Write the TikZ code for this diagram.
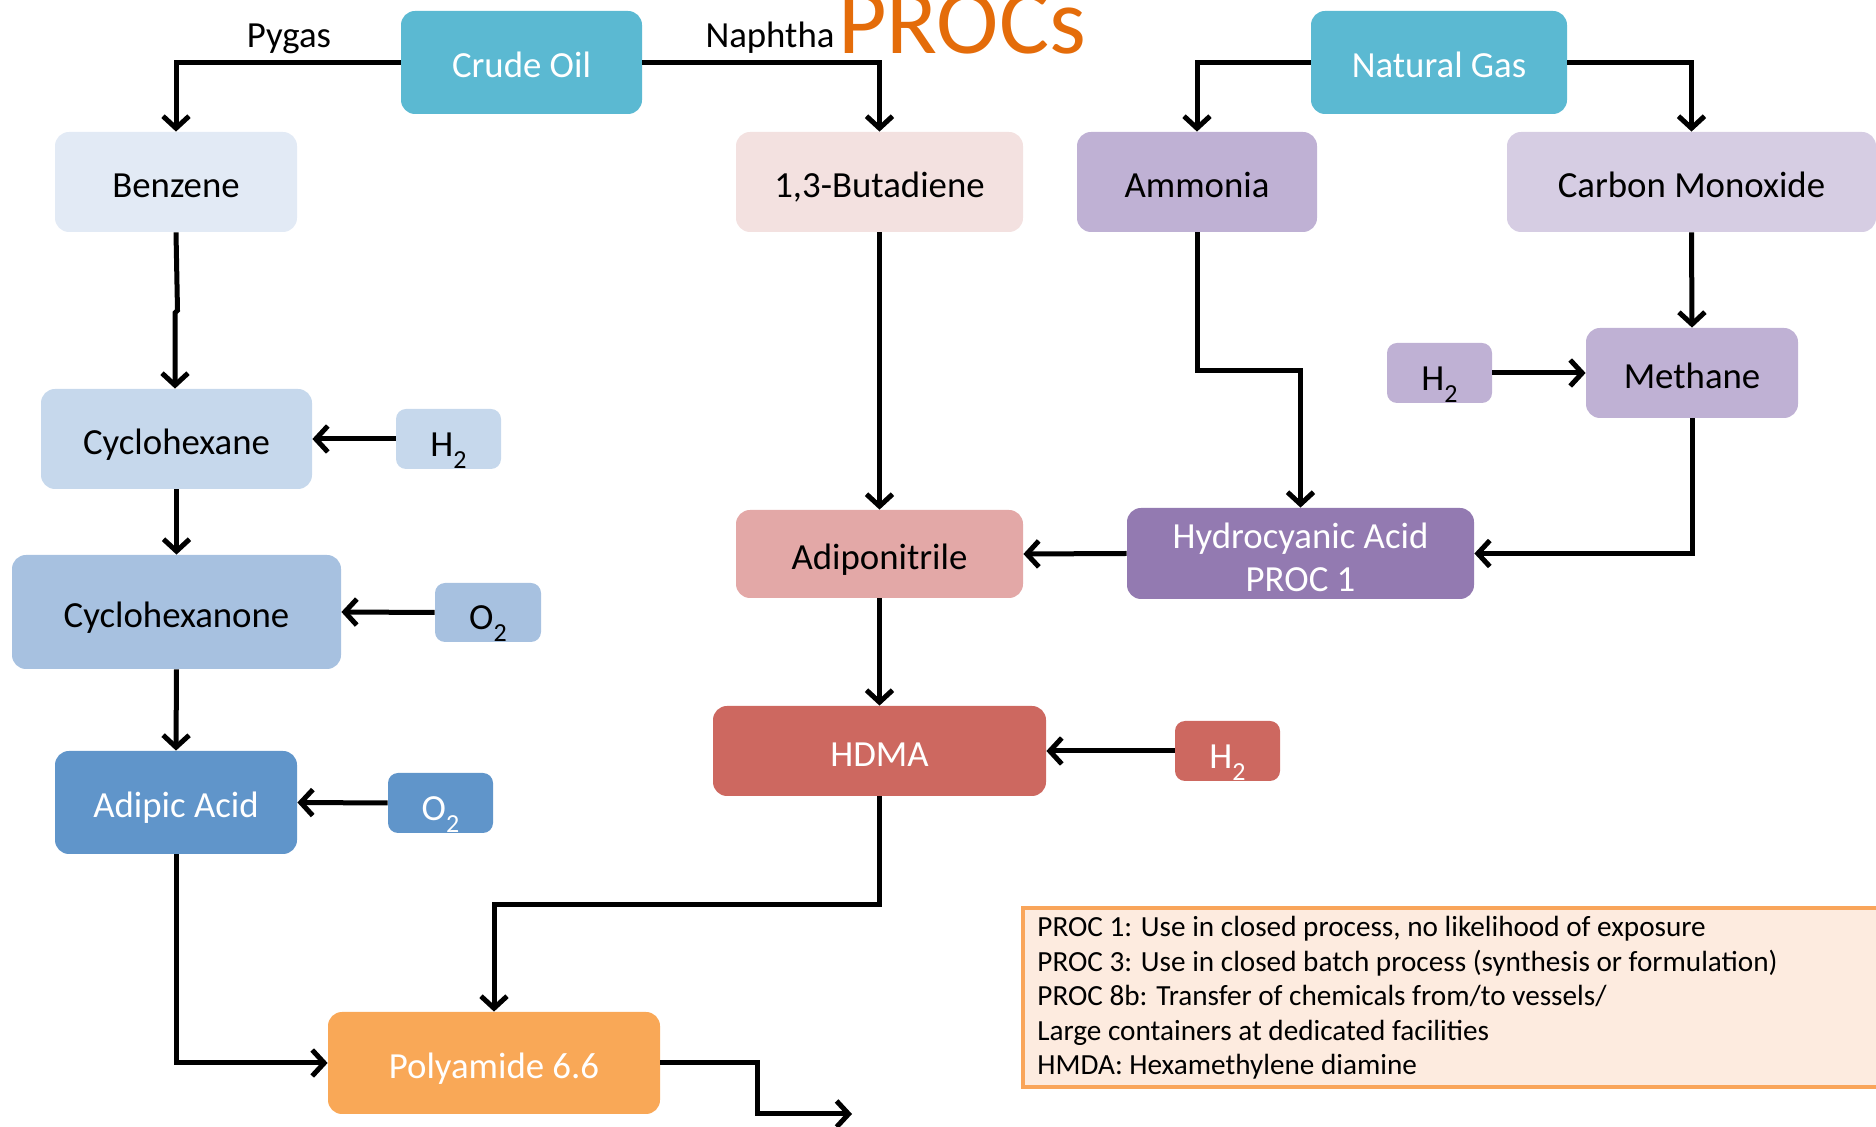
\documentclass[tikz,border=0pt]{standalone}
\usepackage{fontspec}
\setmainfont{Carlito}
\usetikzlibrary{arrows.meta,calc}
\definecolor{cyanN}{HTML}{5BB9D2}
\definecolor{benzC}{HTML}{E2EAF5}
\definecolor{cyclC}{HTML}{C6D8EC}
\definecolor{cycoC}{HTML}{A7C1E0}
\definecolor{adipC}{HTML}{6095CA}
\definecolor{butaC}{HTML}{F3E1E0}
\definecolor{adpnC}{HTML}{E3A8A7}
\definecolor{hdmaC}{HTML}{CD6860}
\definecolor{polyC}{HTML}{F9A857}
\definecolor{ammoC}{HTML}{BFB1D4}
\definecolor{coC}{HTML}{D6CDE3}
\definecolor{hcnC}{HTML}{937AB1}
\definecolor{legfill}{HTML}{FDEBDF}
\definecolor{legdraw}{HTML}{F9A55A}
\definecolor{titleC}{HTML}{E46C0A}
\newcommand\sbs[1]{\raisebox{-0.32em}{\fontsize{13}{13}\selectfont #1}}
\tikzset{
  chem/.style={rounded corners=7pt, inner sep=0pt, align=center,
    font=\fontsize{18.4}{21.5}\selectfont},
  one/.style={text height=15.5pt, text depth=0pt},
  small/.style={rounded corners=5pt, text height=17.5pt, text depth=0pt},
  wtext/.style={text=white},
  arr/.style={line width=2.5pt, -{Straight Barb[length=6pt,width=13pt,line width=2.5pt]}},
  lbl/.style={anchor=base, font=\fontsize{18.4}{21}\selectfont},
}
\begin{document}
\begin{tikzpicture}[x=0.5pt,y=-0.5pt]
\useasboundingbox (0,0) rectangle (1876,1127);
% title
\node[anchor=base, font=\fontsize{47}{50}\selectfont, text=titleC, inner sep=0pt] (title) at (962,54) {PROCs};
% nodes
\node[chem, one, fill=cyanN, wtext, minimum width=120.5pt, minimum height=51.5pt] (crude) at (521.5,62.5) {Crude Oil};
\node[chem, one, fill=cyanN, wtext, minimum width=128pt, minimum height=51.5pt] (gas) at (1439,62.5) {Natural Gas};
\node[chem, one, fill=benzC, minimum width=121pt, minimum height=50pt] (benz) at (176,182) {Benzene};
\node[chem, one, fill=butaC, minimum width=143.5pt, minimum height=50pt] (buta) at (879.5,182) {1,3-Butadiene};
\node[chem, one, fill=ammoC, minimum width=120pt, minimum height=50pt] (ammo) at (1197,182) {Ammonia};
\node[chem, one, fill=coC, minimum width=184.5pt, minimum height=50pt] (co) at (1691.5,182) {Carbon Monoxide};
\node[chem, one, fill=ammoC, minimum width=106pt, minimum height=45pt] (meth) at (1692,373) {Methane};
\node[chem, small, fill=ammoC, minimum width=52.5pt, minimum height=30pt] (h2m) at (1439.5,373) {H\sbs{2}};
\node[chem, one, fill=cyclC, minimum width=135.5pt, minimum height=50pt] (cyc) at (176.5,439) {Cyclohexane};
\node[chem, small, fill=cyclC, minimum width=52.5pt, minimum height=30pt] (h2c) at (448.5,439) {H\sbs{2}};
\node[chem, one, fill=cycoC, minimum width=164.5pt, minimum height=57pt] (cyco) at (176.5,612) {Cyclohexanone};
\node[chem, small, fill=cycoC, minimum width=53pt, minimum height=29.5pt] (o2a) at (488,612.5) {O\sbs{2}};
\node[chem, one, fill=adipC, wtext, minimum width=121pt, minimum height=51.5pt] (adip) at (176,802.5) {Adipic Acid};
\node[chem, small, fill=adipC, wtext, minimum width=52.5pt, minimum height=30pt] (o2b) at (440.5,803) {O\sbs{2}};
\node[chem, one, fill=adpnC, minimum width=143.5pt, minimum height=44pt] (adpn) at (879.5,554) {Adiponitrile};
\node[chem, fill=hcnC, wtext, minimum width=173.5pt, minimum height=45.5pt] (hcn) at (1300.5,553.5) {\rule{0pt}{16.5pt}Hydrocyanic Acid\\PROC 1};
\node[chem, one, fill=hdmaC, wtext, minimum width=166.5pt, minimum height=45pt] (hdma) at (879.5,751) {HDMA};
\node[chem, small, fill=hdmaC, wtext, minimum width=52.5pt, minimum height=30pt] (h2h) at (1227.5,751) {H\sbs{2}};
\node[chem, one, fill=polyC, wtext, minimum width=166pt, minimum height=51pt] (poly) at (494,1063) {Polyamide 6.6};
% legend
\node[draw=legdraw, fill=legfill, line width=1.8pt, anchor=north west, minimum width=432pt, minimum height=89.5pt, inner sep=0pt] (legbox) at (1021,906) {};
\node[anchor=north west, align=left, inner sep=0pt, font=\fontsize{14.6}{17.25}\selectfont] (legtext) at (1037,916) {PROC 1: Use in closed process, no likelihood of exposure\\PROC 3: Use in closed batch process (synthesis or formulation)\\PROC 8b: Transfer of chemicals from/to vessels/\\Large containers at dedicated facilities\\HMDA: Hexamethylene diamine};
% labels
\node[lbl] (pygas) at (289,48) {Pygas};
\node[lbl] (naph) at (770,48) {Naphtha};
\coordinate (out) at (852,1114);
% connectors
\draw[arr] (crude.west) -| (benz.north);
\draw[arr] (crude.east) -| (buta.north);
\draw[arr] (gas.west) -| (ammo.north);
\draw[arr] (gas.east) -| (co.north);
\draw[arr] (benz.south) -- ++(1.5,78) -- ++(-2.5,2.5) -- ($(cyc.north)+(-1.5,0)$);
\draw[arr] (cyc.south) -- (cyco.north);
\draw[arr] (cyco.south) -- (adip.north);
\draw[arr] (h2c.west) -- (cyc.east);
\draw[arr] (o2a.west) -- (cyco.east);
\draw[arr] (o2b.west) -- (adip.east);
\draw[arr] (adip.south) |- (poly.west);
\draw[arr] (hdma.south) -- ++(0,108) -| (poly.north);
\draw[arr] (poly.east) -- ++(97,0) |- (out);
\draw[arr] (buta.south) -- (adpn.north);
\draw[arr] (adpn.south) -- (hdma.north);
\draw[arr] (hcn.west) -- (adpn.east);
\draw[arr] (h2h.west) -- (hdma.east);
\draw[arr] (ammo.south) -- ++(0,138) -| (hcn.north);
\draw[arr] (co.south) -- (meth.north);
\draw[arr] (h2m.east) -- (meth.west);
\draw[arr] (meth.south) |- (hcn.east);
\end{tikzpicture}
\end{document}
